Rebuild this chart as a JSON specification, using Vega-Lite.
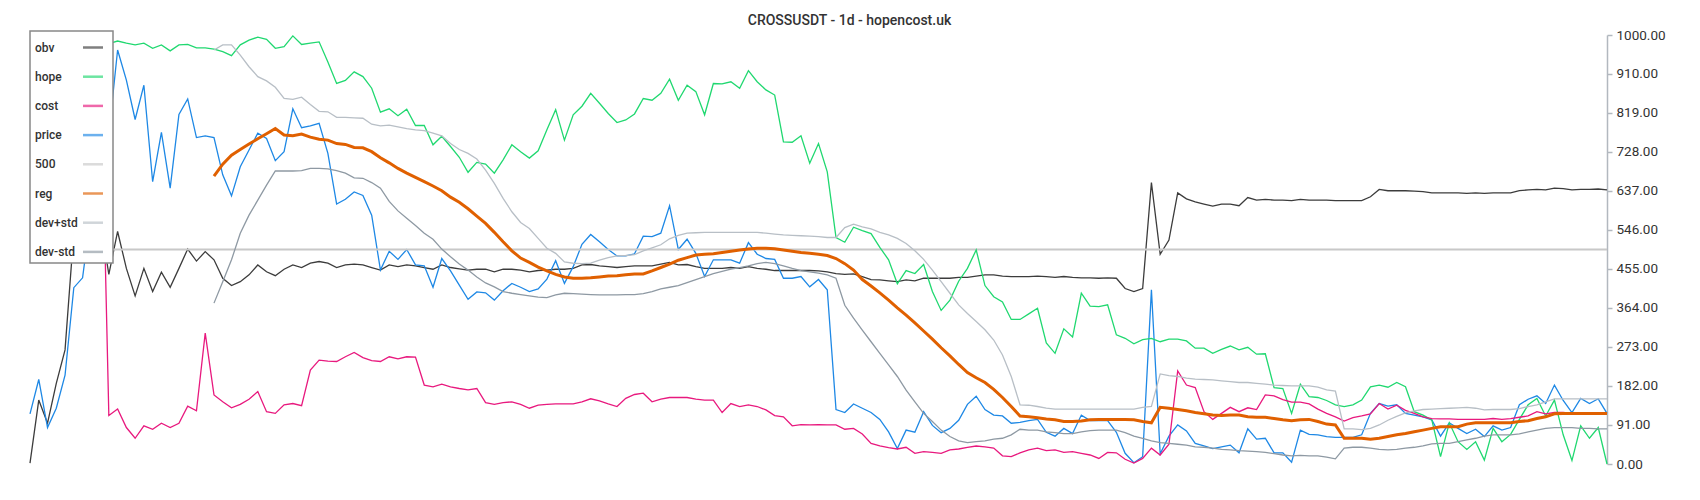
{
  "$schema": "https://vega.github.io/schema/vega-lite/v6.json",
  "autosize": {"type": "none"},
  "width": 1577,
  "height": 429,
  "padding": {"left": 30, "top": 35, "right": 93, "bottom": 36},
  "background": "white",
  "title": {"text": "CROSSUSDT - 1d - hopencost.uk", "font": "Roboto", "fontSize": 14, "fontWeight": 500, "color": "#333333", "anchor": "middle", "dx": 31, "offset": 0},
  "config": {
    "view": {"stroke": null},
    "legend": {"orient": "none", "legendX": 0, "legendY": -4, "padding": 5, "strokeColor": "#888888", "strokeWidth": 1.5, "fillColor": "white", "symbolType": "stroke", "symbolSize": 400, "symbolStrokeWidth": 2.5, "symbolOpacity": 0.65, "labelFont": "Roboto", "labelFontSize": 12, "labelFontWeight": 500, "labelColor": "#333333", "rowPadding": 11.2, "labelOffset": -69.5, "symbolOffset": 46.5, "title": null}
  },
  "data": {"values": [
    {"i":0,"obv":2,"price":117,"l500":500},
    {"i":1,"obv":149,"price":197},
    {"i":2,"obv":95,"price":85},
    {"i":3,"obv":188,"price":130},
    {"i":4,"obv":266,"price":207},
    {"i":5,"obv":540,"price":411},
    {"i":6,"obv":560,"price":434},
    {"i":7,"obv":580,"price":590},
    {"i":8,"obv":570,"hope":975,"cost":1000,"price":800},
    {"i":9,"obv":442,"hope":980,"cost":113,"price":770},
    {"i":10,"obv":542,"hope":986,"cost":128,"price":965},
    {"i":11,"obv":456,"hope":981,"cost":85,"price":895},
    {"i":12,"obv":392,"hope":977,"cost":60,"price":803},
    {"i":13,"obv":456,"hope":981,"cost":89,"price":883},
    {"i":14,"obv":402,"hope":969,"cost":81,"price":658},
    {"i":15,"obv":447,"hope":977,"cost":95,"price":773},
    {"i":16,"obv":412,"hope":963,"cost":85,"price":643},
    {"i":17,"obv":456,"hope":977,"cost":95,"price":815},
    {"i":18,"obv":501,"hope":978,"cost":135,"price":851},
    {"i":19,"obv":473,"hope":970,"cost":124,"price":761},
    {"i":20,"obv":495,"hope":970,"cost":305,"price":765},
    {"i":21,"obv":476,"hope":967,"cost":161,"price":761,"reg":671,"devp":965,"devm":375},
    {"i":22,"obv":433,"hope":961,"cost":145,"price":674,"reg":699,"devp":977,"devm":425},
    {"i":23,"obv":416,"hope":952,"cost":131,"price":625,"reg":720,"devp":977,"devm":476},
    {"i":24,"obv":425,"hope":977,"cost":139,"price":693,"reg":733,"devp":953,"devm":538},
    {"i":25,"obv":441,"hope":988,"cost":151,"price":732,"reg":746,"devp":926,"devm":580},
    {"i":26,"obv":464,"hope":995,"cost":169,"price":771,"reg":758,"devp":903,"devm":615},
    {"i":27,"obv":448,"hope":990,"cost":122,"price":759,"reg":770,"devp":893,"devm":650},
    {"i":28,"obv":439,"hope":969,"cost":118,"price":707,"reg":782,"devp":878,"devm":683},
    {"i":29,"obv":454,"hope":973,"cost":138,"price":728,"reg":767,"devp":852,"devm":683},
    {"i":30,"obv":464,"hope":998,"cost":141,"price":828,"reg":765,"devp":850,"devm":683},
    {"i":31,"obv":458,"hope":978,"cost":136,"price":784,"reg":769,"devp":855,"devm":684},
    {"i":32,"obv":468,"hope":981,"cost":219,"price":788,"reg":762,"devp":838,"devm":689},
    {"i":33,"obv":472,"hope":984,"cost":242,"price":794,"reg":757,"devp":822,"devm":689},
    {"i":34,"obv":468,"hope":937,"cost":240,"price":724,"reg":755,"devp":821,"devm":688},
    {"i":35,"obv":458,"hope":887,"cost":239,"price":606,"reg":747,"devp":808,"devm":684},
    {"i":36,"obv":464,"hope":894,"cost":250,"price":617,"reg":745,"devp":808,"devm":678},
    {"i":37,"obv":466,"hope":914,"cost":260,"price":634,"reg":738,"devp":807,"devm":667},
    {"i":38,"obv":464,"hope":903,"cost":248,"price":626,"reg":737,"devp":806,"devm":666},
    {"i":39,"obv":458,"hope":876,"cost":241,"price":580,"reg":728,"devp":792,"devm":656},
    {"i":40,"obv":452,"hope":820,"cost":239,"price":452,"reg":714,"devp":788,"devm":643},
    {"i":41,"obv":464,"hope":828,"cost":250,"price":496,"reg":702,"devp":790,"devm":612},
    {"i":42,"obv":460,"hope":812,"cost":245,"price":477,"reg":689,"devp":786,"devm":590},
    {"i":43,"obv":464,"hope":827,"cost":250,"price":500,"reg":678,"devp":782,"devm":573},
    {"i":44,"obv":462,"hope":789,"cost":249,"price":464,"reg":668,"devp":779,"devm":556},
    {"i":45,"obv":458,"hope":789,"cost":184,"price":462,"reg":658,"devp":777,"devm":538},
    {"i":46,"obv":454,"hope":744,"cost":180,"price":412,"reg":648,"devp":771,"devm":524},
    {"i":47,"obv":464,"hope":764,"cost":186,"price":479,"reg":637,"devp":765,"devm":501},
    {"i":48,"obv":458,"hope":740,"cost":180,"price":450,"reg":622,"devp":747,"devm":483},
    {"i":49,"obv":455,"hope":715,"cost":176,"price":417,"reg":610,"devp":733,"devm":466},
    {"i":50,"obv":452,"hope":680,"cost":173,"price":384,"reg":595,"devp":724,"devm":452},
    {"i":51,"obv":454,"hope":703,"cost":176,"price":401,"reg":578,"devp":711,"devm":436},
    {"i":52,"obv":454,"hope":699,"cost":143,"price":399,"reg":561,"devp":685,"devm":422},
    {"i":53,"obv":448,"hope":678,"cost":139,"price":382,"reg":540,"devp":654,"devm":413},
    {"i":54,"obv":454,"hope":709,"cost":143,"price":404,"reg":518,"devp":619,"devm":402},
    {"i":55,"obv":454,"hope":744,"cost":145,"price":421,"reg":497,"devp":588,"devm":398},
    {"i":56,"obv":452,"hope":728,"cost":139,"price":412,"reg":480,"devp":563,"devm":395},
    {"i":57,"obv":448,"hope":713,"cost":130,"price":402,"reg":470,"devp":549,"devm":392},
    {"i":58,"obv":451,"hope":730,"cost":137,"price":408,"reg":459,"devp":526,"devm":389},
    {"i":59,"obv":452,"hope":779,"cost":139,"price":431,"reg":450,"devp":503,"devm":388},
    {"i":60,"obv":454,"hope":826,"cost":140,"price":474,"reg":442,"devp":491,"devm":394},
    {"i":61,"obv":454,"hope":755,"cost":140,"price":421,"reg":436,"devp":471,"devm":398},
    {"i":62,"obv":456,"hope":814,"cost":140,"price":460,"reg":433,"devp":468,"devm":397},
    {"i":63,"obv":464,"hope":834,"cost":145,"price":512,"reg":433,"devp":467,"devm":396},
    {"i":64,"obv":465,"hope":864,"cost":152,"price":535,"reg":434,"devp":468,"devm":395},
    {"i":65,"obv":462,"hope":841,"cost":147,"price":518,"reg":436,"devp":475,"devm":394},
    {"i":66,"obv":460,"hope":817,"cost":140,"price":500,"reg":438,"devp":481,"devm":394},
    {"i":67,"obv":458,"hope":796,"cost":134,"price":485,"reg":439,"devp":485,"devm":394},
    {"i":68,"obv":460,"hope":802,"cost":153,"price":485,"reg":441,"devp":486,"devm":395},
    {"i":69,"obv":462,"hope":816,"cost":162,"price":490,"reg":443,"devp":488,"devm":395},
    {"i":70,"obv":462,"hope":852,"cost":165,"price":531,"reg":443,"devp":497,"devm":397},
    {"i":71,"obv":462,"hope":848,"cost":145,"price":530,"reg":450,"devp":504,"devm":402},
    {"i":72,"obv":466,"hope":864,"cost":151,"price":538,"reg":458,"devp":511,"devm":408},
    {"i":73,"obv":470,"hope":897,"cost":155,"price":602,"reg":466,"devp":525,"devm":412},
    {"i":74,"obv":464,"hope":848,"cost":155,"price":500,"reg":475,"devp":533,"devm":416},
    {"i":75,"obv":465,"hope":883,"cost":155,"price":524,"reg":481,"devp":538,"devm":423},
    {"i":76,"obv":460,"hope":868,"cost":151,"price":491,"reg":487,"devp":539,"devm":430},
    {"i":77,"obv":456,"hope":814,"cost":149,"price":437,"reg":489,"devp":540,"devm":437},
    {"i":78,"obv":456,"hope":887,"cost":149,"price":476,"reg":490,"devp":540,"devm":444},
    {"i":79,"obv":456,"hope":886,"cost":120,"price":476,"reg":493,"devp":540,"devm":449},
    {"i":80,"obv":458,"hope":891,"cost":141,"price":476,"reg":496,"devp":540,"devm":454},
    {"i":81,"obv":456,"hope":876,"cost":134,"price":468,"reg":499,"devp":540,"devm":458},
    {"i":82,"obv":460,"hope":917,"cost":138,"price":516,"reg":501,"devp":540,"devm":462},
    {"i":83,"obv":456,"hope":891,"cost":134,"price":489,"reg":503,"devp":540,"devm":467},
    {"i":84,"obv":454,"hope":872,"cost":126,"price":479,"reg":503,"devp":538,"devm":470},
    {"i":85,"obv":451,"hope":860,"cost":113,"price":477,"reg":502,"devp":536,"devm":467},
    {"i":86,"obv":451,"hope":751,"cost":110,"price":433,"reg":499,"devp":534,"devm":462},
    {"i":87,"obv":451,"hope":750,"cost":89,"price":433,"reg":496,"devp":533,"devm":456},
    {"i":88,"obv":451,"hope":765,"cost":92,"price":437,"reg":493,"devp":532,"devm":451},
    {"i":89,"obv":451,"hope":701,"cost":91,"price":413,"reg":491,"devp":531,"devm":448},
    {"i":90,"obv":450,"hope":747,"cost":92,"price":430,"reg":489,"devp":530,"devm":445},
    {"i":91,"obv":448,"hope":681,"cost":91,"price":406,"reg":486,"devp":528,"devm":441},
    {"i":92,"obv":444,"hope":528,"cost":91,"price":127,"reg":479,"devp":528,"devm":433},
    {"i":93,"obv":442,"hope":517,"cost":81,"price":120,"reg":467,"devp":551,"devm":370},
    {"i":94,"obv":443,"hope":552,"cost":83,"price":140,"reg":452,"devp":559,"devm":340},
    {"i":95,"obv":437,"hope":544,"cost":70,"price":130,"reg":430,"devp":553,"devm":312},
    {"i":96,"obv":430,"hope":537,"cost":48,"price":120,"reg":415,"devp":548,"devm":285},
    {"i":97,"obv":429,"hope":505,"cost":42,"price":104,"reg":399,"devp":540,"devm":258},
    {"i":98,"obv":427,"hope":476,"cost":38,"price":75,"reg":382,"devp":534,"devm":231},
    {"i":99,"obv":425,"hope":420,"cost":35,"price":36,"reg":364,"devp":526,"devm":204},
    {"i":100,"obv":429,"hope":451,"cost":39,"price":79,"reg":347,"devp":514,"devm":172},
    {"i":101,"obv":427,"hope":444,"cost":25,"price":74,"reg":329,"devp":497,"devm":145},
    {"i":102,"obv":433,"hope":465,"cost":29,"price":122,"reg":310,"devp":477,"devm":118},
    {"i":103,"obv":433,"hope":402,"cost":27,"price":90,"reg":291,"devp":452,"devm":99},
    {"i":104,"obv":433,"hope":358,"cost":25,"price":73,"reg":271,"devp":425,"devm":79},
    {"i":105,"obv":433,"hope":382,"cost":33,"price":83,"reg":252,"devp":398,"devm":64},
    {"i":106,"obv":435,"hope":426,"cost":35,"price":102,"reg":232,"devp":371,"devm":54},
    {"i":107,"obv":435,"hope":456,"cost":39,"price":139,"reg":213,"devp":351,"devm":50},
    {"i":108,"obv":438,"hope":499,"cost":42,"price":158,"reg":201,"devp":332,"devm":52},
    {"i":109,"obv":441,"hope":416,"cost":40,"price":127,"reg":190,"devp":313,"devm":54},
    {"i":110,"obv":441,"hope":390,"cost":37,"price":114,"reg":174,"devp":289,"devm":58},
    {"i":111,"obv":438,"hope":378,"cost":19,"price":112,"reg":155,"devp":254,"devm":60},
    {"i":112,"obv":437,"hope":337,"cost":17,"price":95,"reg":134,"devp":204,"devm":68},
    {"i":113,"obv":437,"hope":337,"cost":26,"price":97,"reg":112,"devp":138,"devm":81},
    {"i":114,"obv":437,"hope":350,"cost":33,"price":101,"reg":110,"devp":137,"devm":79},
    {"i":115,"obv":438,"hope":363,"cost":37,"price":104,"reg":108,"devp":134,"devm":79},
    {"i":116,"obv":437,"hope":282,"cost":31,"price":74,"reg":105,"devp":130,"devm":75},
    {"i":117,"obv":435,"hope":258,"cost":33,"price":65,"reg":103,"devp":128,"devm":73},
    {"i":118,"obv":437,"hope":315,"cost":27,"price":83,"reg":99,"devp":128,"devm":71},
    {"i":119,"obv":435,"hope":296,"cost":29,"price":71,"reg":99,"devp":128,"devm":71},
    {"i":120,"obv":434,"hope":398,"cost":25,"price":114,"reg":100,"devp":128,"devm":75},
    {"i":121,"obv":434,"hope":368,"cost":21,"price":101,"reg":103,"devp":128,"devm":78},
    {"i":122,"obv":433,"hope":367,"cost":13,"price":101,"reg":104,"devp":128,"devm":79},
    {"i":123,"obv":434,"hope":371,"cost":27,"price":101,"reg":104,"devp":128,"devm":79},
    {"i":124,"obv":433,"hope":301,"cost":26,"price":74,"reg":104,"devp":128,"devm":79},
    {"i":125,"obv":409,"hope":293,"cost":11,"price":25,"reg":104,"devp":128,"devm":73},
    {"i":126,"obv":402,"hope":280,"cost":2,"price":3,"reg":103,"devp":128,"devm":65},
    {"i":127,"obv":409,"hope":290,"cost":13,"price":17,"reg":99,"devp":132,"devm":60},
    {"i":128,"obv":656,"hope":293,"cost":37,"price":406,"reg":96,"devp":134,"devm":54},
    {"i":129,"obv":489,"hope":285,"cost":21,"price":24,"reg":132,"devp":210,"devm":50},
    {"i":130,"obv":522,"hope":291,"cost":46,"price":65,"reg":130,"devp":206,"devm":48},
    {"i":131,"obv":632,"hope":291,"cost":217,"price":91,"reg":127,"devp":204,"devm":46},
    {"i":132,"obv":618,"hope":287,"cost":184,"price":77,"reg":124,"devp":200,"devm":44},
    {"i":133,"obv":611,"hope":270,"cost":178,"price":48,"reg":120,"devp":198,"devm":40},
    {"i":134,"obv":606,"hope":270,"cost":122,"price":42,"reg":117,"devp":197,"devm":39},
    {"i":135,"obv":601,"hope":258,"cost":104,"price":36,"reg":114,"devp":196,"devm":37},
    {"i":136,"obv":606,"hope":267,"cost":118,"price":40,"reg":113,"devp":194,"devm":34},
    {"i":137,"obv":606,"hope":275,"cost":132,"price":44,"reg":114,"devp":192,"devm":33},
    {"i":138,"obv":602,"hope":266,"cost":122,"price":26,"reg":114,"devp":190,"devm":31},
    {"i":139,"obv":621,"hope":272,"cost":131,"price":82,"reg":110,"devp":190,"devm":30},
    {"i":140,"obv":615,"hope":256,"cost":127,"price":58,"reg":109,"devp":188,"devm":29},
    {"i":141,"obv":617,"hope":257,"cost":161,"price":60,"reg":109,"devp":186,"devm":27},
    {"i":142,"obv":615,"hope":178,"cost":159,"price":26,"reg":106,"devp":184,"devm":24},
    {"i":143,"obv":615,"hope":176,"cost":150,"price":26,"reg":103,"devp":183,"devm":21},
    {"i":144,"obv":614,"hope":118,"cost":144,"price":4,"reg":101,"devp":182,"devm":19},
    {"i":145,"obv":617,"hope":186,"cost":144,"price":79,"reg":103,"devp":182,"devm":20},
    {"i":146,"obv":615,"hope":157,"cost":140,"price":69,"reg":104,"devp":182,"devm":19},
    {"i":147,"obv":615,"hope":155,"cost":128,"price":68,"reg":99,"devp":179,"devm":19},
    {"i":148,"obv":615,"hope":148,"cost":118,"price":64,"reg":93,"devp":173,"devm":16},
    {"i":149,"obv":614,"hope":138,"cost":110,"price":62,"reg":91,"devp":170,"devm":12},
    {"i":150,"obv":614,"hope":134,"cost":100,"price":62,"reg":60,"devp":82,"devm":37},
    {"i":151,"obv":614,"hope":138,"cost":108,"price":62,"reg":60,"devp":82,"devm":39},
    {"i":152,"obv":614,"hope":149,"cost":112,"price":68,"reg":60,"devp":80,"devm":39},
    {"i":153,"obv":623,"hope":180,"cost":117,"price":118,"reg":58,"devp":83,"devm":37},
    {"i":154,"obv":640,"hope":184,"cost":141,"price":141,"reg":60,"devp":91,"devm":34},
    {"i":155,"obv":637,"hope":179,"cost":128,"price":135,"reg":64,"devp":102,"devm":33},
    {"i":156,"obv":637,"hope":190,"cost":137,"price":138,"reg":68,"devp":111,"devm":34},
    {"i":157,"obv":637,"hope":180,"cost":125,"price":118,"reg":71,"devp":119,"devm":37},
    {"i":158,"obv":636,"hope":122,"cost":118,"price":114,"reg":75,"devp":124,"devm":39},
    {"i":159,"obv":635,"hope":114,"cost":110,"price":110,"reg":79,"devp":127,"devm":42},
    {"i":160,"obv":632,"hope":103,"cost":106,"price":103,"reg":83,"devp":128,"devm":47},
    {"i":161,"obv":632,"hope":17,"cost":105,"price":65,"reg":87,"devp":129,"devm":48},
    {"i":162,"obv":632,"hope":96,"cost":105,"price":96,"reg":87,"devp":130,"devm":48},
    {"i":163,"obv":632,"hope":52,"cost":104,"price":83,"reg":87,"devp":131,"devm":52},
    {"i":164,"obv":631,"hope":34,"cost":104,"price":71,"reg":93,"devp":132,"devm":56},
    {"i":165,"obv":632,"hope":52,"cost":104,"price":81,"reg":96,"devp":130,"devm":60},
    {"i":166,"obv":631,"hope":9,"cost":104,"price":64,"reg":96,"devp":126,"devm":65},
    {"i":167,"obv":632,"hope":83,"cost":106,"price":89,"reg":96,"devp":127,"devm":68},
    {"i":168,"obv":632,"hope":52,"cost":104,"price":79,"reg":96,"devp":127,"devm":68},
    {"i":169,"obv":632,"hope":69,"cost":106,"price":85,"reg":96,"devp":127,"devm":68},
    {"i":170,"obv":637,"hope":104,"cost":109,"price":138,"reg":99,"devp":129,"devm":70},
    {"i":171,"obv":639,"hope":138,"cost":112,"price":151,"reg":101,"devp":134,"devm":75},
    {"i":172,"obv":640,"hope":153,"cost":122,"price":159,"reg":106,"devp":138,"devm":79},
    {"i":173,"obv":639,"hope":112,"cost":117,"price":141,"reg":110,"devp":145,"devm":83},
    {"i":174,"obv":643,"hope":149,"cost":120,"price":184,"reg":117,"devp":152,"devm":85},
    {"i":175,"obv":642,"hope":68,"cost":120,"price":148,"reg":118,"devp":152,"devm":85},
    {"i":176,"obv":639,"hope":8,"cost":118,"price":120,"reg":118,"devp":152,"devm":85},
    {"i":177,"obv":640,"hope":89,"cost":118,"price":153,"reg":118,"devp":152,"devm":83},
    {"i":178,"obv":640,"hope":60,"cost":118,"price":141,"reg":118,"devp":152,"devm":83},
    {"i":179,"obv":641,"hope":85,"cost":118,"price":152,"reg":118,"devp":152,"devm":82},
    {"i":180,"obv":639,"hope":0,"cost":118,"price":118,"reg":118,"devp":152,"devm":82,"l500":500}
  ]},
  "transform": [
    {"fold": ["obv", "hope", "cost", "price", "l500", "reg", "devp", "devm"], "as": ["s", "v"]},
    {"filter": "isValid(datum.v)"}
  ],
  "mark": {"type": "line", "interpolate": "linear"},
  "encoding": {
    "x": {"field": "i", "type": "quantitative", "scale": {"domain": [0, 180], "nice": false, "zero": false}, "axis": null},
    "y": {"field": "v", "type": "quantitative", "scale": {"domain": [0, 1000], "nice": false},
      "axis": {"orient": "right", "values": [0, 91, 182, 273, 364, 455, 546, 637, 728, 819, 910, 1000], "format": ".2f", "title": null, "grid": false,
        "domainColor": "#b2b8bf", "domainWidth": 1.5, "tickColor": "#b2b8bf", "tickWidth": 1.5, "tickSize": 5,
        "labelFont": "Roboto", "labelFontSize": 13.5, "labelColor": "#333333", "labelPadding": 4}},
    "color": {"field": "s", "type": "nominal",
      "scale": {"domain": ["obv", "hope", "cost", "price", "l500", "reg", "devp", "devm"],
        "range": ["#3c3c3c", "#20d870", "#e8197e", "#1e88e5", "#c8c8c8", "#e06000", "#b8bfc6", "#8e99a3"]},
      "legend": {"labelExpr": "datum.label == 'l500' ? '500' : datum.label == 'devp' ? 'dev+std' : datum.label == 'devm' ? 'dev-std' : datum.label"}},
    "strokeWidth": {"condition": [{"test": "datum.s == 'reg'", "value": 3}, {"test": "datum.s == 'l500'", "value": 2}], "value": 1.3}
  }
}
